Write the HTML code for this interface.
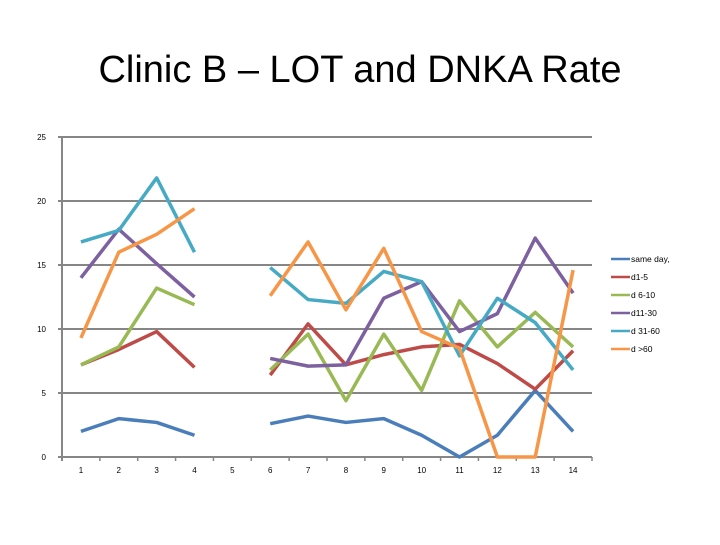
<!DOCTYPE html>
<html><head><meta charset="utf-8"><style>
body{margin:0;background:#fff;width:720px;height:540px;overflow:hidden;font-family:"Liberation Sans",sans-serif}
</style></head><body>
<svg width="720" height="540">
<text x="360" y="82" text-anchor="middle" font-size="38" fill="#000">Clinic B – LOT and DNKA Rate</text>
<g id="grid"></g><g id="series"></g><g id="legend"></g>
</svg>
<script>
const categories=["1","2","3","4","5","6","7","8","9","10","11","12","13","14"];
const yTicks=[0,5,10,15,20,25];
const seriesNames=["same day,","d1-5","d 6-10","d11-30","d 31-60","d >60"];
const seriesColors=["#4a7ebb","#be4b48","#98b954","#7d60a0","#46aac5","#f79646"];
const sameDay=[2.0,3.0,2.7,1.7,null,2.6,3.2,2.7,3.0,1.7,0,1.7,5.2,2.0];
const d1to5=[7.2,8.4,9.8,7.0,null,6.4,10.4,7.2,8.0,8.6,8.8,7.3,5.3,8.3];
const d6to10=[7.2,8.6,13.2,11.9,null,6.8,9.6,4.4,9.6,5.2,12.2,8.6,11.3,8.6];
const d11to30=[14.0,17.8,15.1,12.5,null,7.7,7.1,7.2,12.4,13.7,9.8,11.2,17.1,12.8];
const d31to60=[16.8,17.7,21.8,16.0,null,14.8,12.3,12.0,14.5,13.7,7.9,12.4,10.5,6.8];
const dOver60=[9.3,16.0,17.4,19.4,null,12.6,16.8,11.5,16.3,9.8,8.5,0,0,14.6];
const allSeries=[sameDay,d1to5,d6to10,d11to30,d31to60,dOver60];
const NS="http://www.w3.org/2000/svg";
const X0=62,X1=592,Y0=457,Y1=137,YMAX=25;
const bw=(X1-X0)/categories.length;
const xs=i=>X0+bw*(i+0.5);
const ys=v=>Y0-(v/YMAX)*(Y0-Y1);
function mk(t,a,p){const e=document.createElementNS(NS,t);for(const k in a)e.setAttribute(k,a[k]);p.appendChild(e);return e;}
const grid=document.getElementById('grid');
yTicks.forEach(t=>{
 const l=mk('line',{x1:X0-4,x2:X1,y1:ys(t),y2:ys(t),stroke:'#868686','stroke-width':2},grid);
 
 
 const tx=mk('text',{x:46,y:ys(t)+3,'font-size':8,'text-anchor':'end',fill:'#000'},grid);
 tx.textContent=t;
 
 
});
const ax=mk('line',{x1:X0,x2:X0,y1:Y1,y2:Y0+4,stroke:'#868686','stroke-width':2},grid);


categories.forEach((c,i)=>{
 const tk=mk('line',{x1:X0+bw*(i+1),x2:X0+bw*(i+1),y1:Y0,y2:Y0+4,stroke:'#868686','stroke-width':1.5},grid);
 
 
 const tx=mk('text',{x:xs(i),y:Y0+16,'font-size':8,'text-anchor':'middle',fill:'#000'},grid);
 tx.textContent=c;
 
 
});
const sg=document.getElementById('series');
allSeries.forEach((s,k)=>{
 let d='',pen=false;
 s.forEach((v,i)=>{if(v===null){pen=false;return;}d+=(pen?'L':'M')+xs(i)+' '+ys(v)+' ';pen=true;});
 const p=mk('path',{d:d,fill:'none',stroke:seriesColors[k],'stroke-width':3.5,'stroke-linejoin':'round'},sg);
 
 
});
const lg=document.getElementById('legend');
seriesNames.forEach((n,k)=>{
 const y=259+k*18;
 const g=mk('g',{},lg);
 
 
 mk('line',{x1:611,x2:630,y1:y,y2:y,stroke:seriesColors[k],'stroke-width':2.5},g);
 const t=mk('text',{x:631,y:y+3,'font-size':8.5,fill:'#000'},g);
 t.textContent=n;
});
</script>
</body></html>
